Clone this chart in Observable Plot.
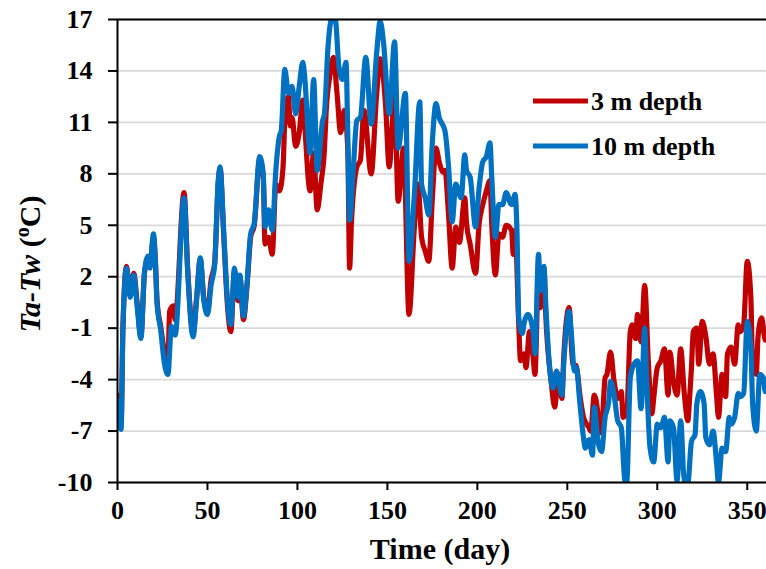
<!DOCTYPE html>
<html><head><meta charset="utf-8">
<script src="https://cdn.jsdelivr.net/npm/d3@7"></script>
<script src="https://cdn.jsdelivr.net/npm/@observablehq/plot@0.6"></script>
<style>
body{margin:0;background:#fff}
#chart svg{font-family:"Liberation Serif","Times New Roman",serif;}
</style>
</head><body><div id="chart"></div>
<script>
// ---- data ----
const seriesNames = ["3 m depth", "10 m depth"];
const seriesColors = ["#C00000", "#0070C0"];
const xTicks = [0, 50, 100, 150, 200, 250, 300, 350];
const yTicks = [-10, -7, -4, -1, 2, 5, 8, 11, 14, 17];

const days3 = [0,2,3,5,7,9,11,13,15,17,18,20,21,22,24,26,28,29,31,32,37,39,42,44,46,48,50,52,54,56,57,59,61,63,65,67,68,70,72,74,76,79,81,82,84,86,88,90,92,93,95,96,97,99,101,103,104,107,109,111,113,115,116,118,120,122,124,126,128,129,130,133,135,137,141,144,146,149,151,154,156,159,162,165,167,169,171,173,175,177,179,181,182,184,186,188,190,193,194,196,199,201,203,205,207,208,210,212,214,216,219,220,221,223,224,226,227,229,231,232,234,235,237,238,241,243,245,247,248,251,253,255,257,259,262,263,265,267,268,269,271,272,274,276,278,280,281,283,285,286,288,289,291,293,295,297,298,300,302,304,306,307,309,311,313,315,317,318,319,320,322,323,325,327,329,331,333,334,336,338,339,341,343,345,346,348,350,352,353,355,356,358,360,361];
const temp3 = [-4.9,-6.5,-1.0,2.6,0.9,2.2,0.4,-1.5,2.2,3.1,2.6,4.3,3.0,0.6,-0.9,-2.3,-3.0,0.0,0.3,-0.5,6.9,2.5,-1.3,0.8,3.0,0.7,0.0,1.8,2.8,7.5,8.3,4.5,0.5,-1.2,2.3,0.6,2.0,-0.5,1.5,4.3,5.0,8.8,7.8,3.9,4.3,3.3,7.4,7.0,8.4,11.1,12.5,10.8,11.3,9.6,10.4,12.3,10.9,7.0,9.2,5.9,7.4,9.4,11.7,13.7,14.8,12.7,10.4,11.7,9.4,2.5,5.1,8.4,8.8,11.7,8.0,12.6,14.7,12.0,8.4,12.5,6.4,9.5,-0.2,4.9,7.4,4.3,3.5,2.9,6.6,9.5,8.6,8.1,8.2,5.6,2.5,4.9,4.0,6.6,5.1,3.9,2.2,5.1,6.2,7.0,7.6,5.1,2.1,4.5,4.3,5.0,4.7,3.3,4.7,-0.8,-2.9,-2.5,-3.3,-1.2,-2.7,-3.7,2.2,0.2,2.5,-0.2,-4.1,-5.6,-3.7,-5.1,-2.7,0.2,-3.1,-3.2,-4.9,-6.2,-6.8,-7.0,-4.9,-6.0,-7.1,-7.0,-3.9,-3.7,-2.4,-4.1,-5.1,-4.7,-6.2,-6.0,-1.2,-0.8,-1.6,-0.2,-1.8,1.5,-2.9,-6.0,-5.1,-3.3,-2.9,-2.2,-4.9,-2.4,-4.1,-4.9,-2.2,-4.8,-6.4,-5.0,-3.3,-1.2,-1.0,-3.1,-0.6,-1.5,-3.1,-2.5,-5.0,-6.2,-3.7,-5.0,-2.5,-2.1,-3.1,-0.8,-1.2,-0.8,2.9,0.8,-3.1,-3.7,-1.5,-0.4,-1.7,-1.2];

const days10 = [0,2,3,5,7,9,11,13,15,17,18,20,21,22,24,26,28,30,32,37,39,42,44,46,48,50,52,54,56,57,59,61,63,65,67,68,70,72,74,76,79,81,82,84,86,88,90,91,93,95,97,99,101,103,104,107,109,111,114,115,117,119,121,123,125,127,128,129,131,133,135,138,141,144,146,148,151,154,156,160,162,165,168,169,171,173,175,177,179,180,182,184,186,188,191,193,194,196,199,201,203,205,207,208,210,212,214,216,219,221,222,223,225,226,228,231,232,234,235,237,238,240,242,244,247,248,251,252,254,255,257,259,260,262,264,265,267,269,271,273,274,276,278,280,282,283,285,287,289,291,293,294,296,298,300,302,304,306,307,309,311,313,315,317,319,321,322,324,326,327,329,331,333,334,336,338,340,341,343,345,346,348,350,352,353,355,357,359,360,361];
const temp10 = [-5.2,-6.9,-1.2,2.5,0.8,2.1,0.2,-1.6,2.3,3.2,2.5,4.5,3.1,0.4,-1.1,-3.0,-3.7,-0.9,-1.4,6.6,2.3,-1.5,0.7,3.1,0.6,-0.2,1.5,2.7,7.6,8.4,4.7,0.8,-0.8,2.5,0.8,2.1,-0.3,1.6,4.5,5.1,9.0,8.0,4.9,5.9,4.7,8.2,10.2,10.5,14.1,12.7,13.1,11.5,13.1,14.5,13.7,9.2,13.5,8.2,11.1,11.5,15.4,17.0,17.0,14.3,13.5,14.5,10.2,5.3,8.2,11.1,11.3,14.8,10.9,15.0,16.9,15.5,11.5,15.7,9.5,12.7,2.9,6.8,12.2,7.4,6.6,5.6,9.9,12.1,11.2,11.0,10.5,8.4,5.2,7.4,6.6,9.1,8.2,7.8,4.9,7.2,8.7,9.0,9.8,7.8,4.3,6.2,6.2,6.9,6.2,6.8,4.7,-0.4,-1.3,-0.7,-0.2,-1.2,-2.5,3.3,1.2,2.6,0.4,-3.1,-4.5,-3.5,-4.9,-3.1,0.0,-1.0,-3.5,-3.3,-5.4,-7.4,-8.0,-7.5,-8.4,-5.6,-7.6,-8.2,-6.2,-5.3,-4.1,-4.9,-6.4,-6.8,-9.9,-10.0,-3.9,-3.1,-2.9,-5.7,-1.0,-3.7,-8.0,-8.8,-6.6,-6.8,-6.2,-8.8,-6.4,-6.8,-9.9,-6.4,-9.9,-10.0,-7.6,-7.2,-5.4,-4.7,-5.4,-7.4,-7.8,-7.0,-8.9,-10.0,-8.0,-8.2,-6.2,-6.6,-6.2,-4.8,-5.0,-4.8,-0.6,-2.1,-5.4,-7.0,-3.7,-3.9,-4.7,-4.3];

// ---- build tables ----
const data3 = days3.map((d, i) => ({day: d, value: temp3[i], series: seriesNames[0]}));
const data10 = days10.map((d, i) => ({day: d, value: temp10[i], series: seriesNames[1]}));

const font = '"Liberation Serif","Times New Roman",serif';
const fmt = d => String(d);

const chart = Plot.plot({
  width: 766,
  height: 569,
  marginLeft: 117,
  marginRight: 0,
  marginTop: 19,
  marginBottom: 87,
  style: {fontFamily: font, fontSize: "26px", fontWeight: "bold", color: "#000", background: "#fff", overflow: "visible"},
  x: {domain: [0, 360.7]},
  y: {domain: [-10, 17]},
  marks: [
    Plot.gridY(yTicks, {stroke: "#d9d9d9", strokeOpacity: 1, strokeWidth: 1.8}),
    Plot.line(data3, {x: "day", y: "value", stroke: seriesColors[0], strokeWidth: 5.2, curve: "monotone-x", strokeLinejoin: "round", strokeLinecap: "round", clip: true}),
    Plot.line(data10, {x: "day", y: "value", stroke: seriesColors[1], strokeWidth: 5.2, curve: "monotone-x", strokeLinejoin: "round", strokeLinecap: "round", clip: true}),
    Plot.ruleY([17], {stroke: "#000", strokeWidth: 2}),
    Plot.ruleY([-10], {stroke: "#000", strokeWidth: 2}),
    Plot.ruleX([0], {stroke: "#000", strokeWidth: 2}),
    Plot.axisY({ticks: yTicks, tickFormat: fmt, tickSize: 9, tickPadding: 16, strokeWidth: 2, label: null, fontSize: 26, fontWeight: "bold"}),
    Plot.axisX({ticks: xTicks, tickFormat: fmt, tickSize: 8, tickPadding: 10, strokeWidth: 2, label: null, fontSize: 26, fontWeight: "bold"})
  ]
});

document.getElementById("chart").appendChild(chart);

// ---- titles and legend as text ----
const svg = d3.select(chart);
const yt = svg.append("text")
  .attr("transform", "translate(40,264) rotate(-90)")
  .attr("text-anchor", "middle")
  .attr("font-family", font).attr("font-size", 30).attr("font-weight", "bold").attr("fill", "#000");
yt.append("tspan").attr("font-style", "italic").text("Ta-Tw");
yt.append("tspan").text(" (");
yt.append("tspan").attr("font-size", 20).attr("dy", -11).text("o");
yt.append("tspan").attr("dy", 11).text("C)");

svg.append("text")
  .attr("x", 440).attr("y", 559)
  .attr("text-anchor", "middle")
  .attr("font-family", font).attr("font-size", 30).attr("font-weight", "bold").attr("fill", "#000")
  .text("Time (day)");

const legendY = [101, 146];
seriesNames.forEach((name, i) => {
  const g = svg.append("g");
  g.append("line").attr("x1", 533).attr("x2", 588).attr("y1", legendY[i]).attr("y2", legendY[i])
    .attr("stroke", seriesColors[i]).attr("stroke-width", 5);
  g.append("text").attr("x", 591).attr("y", legendY[i] + 9)
    .attr("text-anchor", "start")
    .attr("font-family", font).attr("font-size", 26).attr("font-weight", "bold").attr("fill", "#000")
    .text(name);
});
</script>
</body></html>
